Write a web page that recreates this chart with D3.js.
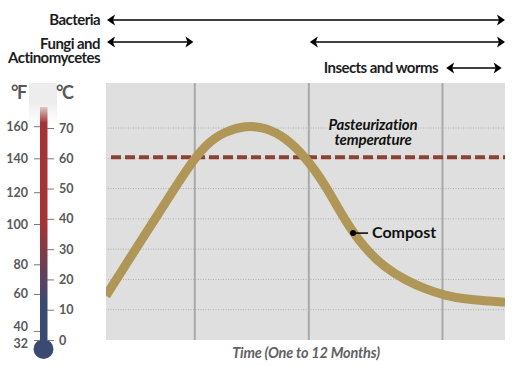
<!DOCTYPE html>
<html lang="en">

<head>
    <meta charset="utf-8">
    <title>Compost temperature over time</title>
    <script src="https://d3js.org/d3.v7.min.js"></script>
    <style>
        html, body { margin: 0; padding: 0; background: #fff; }
        svg { display: block; }
        text { font-family: Lato, sans-serif; }
        .head { font-size: 15px; font-weight: 700; fill: #1d1d1f; letter-spacing: -0.55px; }
        .therm text { font-size: 12.5px; font-weight: 700; fill: #58585a; }
        .unit { font-size: 18px; font-weight: 700; fill: #58585a; letter-spacing: -1.5px; }
    </style>
</head>

<body>
    <script type="text/javascript">

        //Data
        const months = [0, 0.6, 1.2, 1.8, 2.4, 3, 3.6, 4.2, 4.8, 5.4, 6, 6.6, 7.2, 7.8, 8.4, 9, 9.6, 10.2, 10.8, 11.4, 12];
        const compost = [14.6, 25, 35.3, 45.5, 55.9, 64.8, 69, 70.8, 70.2, 66.8, 60.4, 51.2, 39.1, 30, 23.8, 19.8, 16.8, 14.7, 13.5, 12.9, 12.5];

        const celsiusTicks = [0, 10, 20, 30, 40, 50, 60, 70];
        const fahrenheitTicks = [32, 40, 60, 80, 100, 120, 140, 160];
        //where the printed F ticks sit against the C scale
        const fahrenheitAtCelsius = [0, 3, 15.2, 25, 38.3, 48.8, 60, 70.6];

        const gridTemps = [10, 20, 30, 40, 50, 60, 70];
        const stageLines = [2.67, 6.1, 10.12];
        const pasteurization = 60;
        const compostLabel = [7.43, 35.3];

        const bacteriaSpans = [[0, 12]];
        const fungiSpans = [[0, 2.63], [6.1, 12]];
        const insectSpans = [[10.2, 11.9]];

        //declare consts
        const w = 512;
        const h = 366;
        const plot = { left: 106, right: 505, top: 83, bottom: 340 };
        const red = "#a33336";
        const navy = "#3a4a72";

        const x = d3.scaleLinear().domain([0, 12]).range([plot.left, plot.right]);
        const y = d3.scaleLinear().domain([0, 70]).range([340, 128]);
        const yF = d3.scaleLinear().domain(fahrenheitTicks).range(fahrenheitAtCelsius.map(c => y(c)));

        const svg = d3.select("body").append("svg")
            .attr("width", w)
            .attr("height", h);

        const defs = svg.append("defs");

        //thermometer colour, red down to about 38C then into navy
        const thermGrad = defs.append("linearGradient")
            .attr("id", "thermGrad")
            .attr("gradientUnits", "userSpaceOnUse")
            .attr("x1", 0).attr("x2", 0)
            .attr("y1", y(38)).attr("y2", y(12));
        thermGrad.append("stop").attr("offset", 0).attr("stop-color", red);
        thermGrad.append("stop").attr("offset", 1).attr("stop-color", navy);

        const fadeGrad = defs.append("linearGradient")
            .attr("id", "fadeGrad")
            .attr("x1", 0).attr("x2", 0).attr("y1", 0).attr("y2", 1);
        fadeGrad.append("stop").attr("offset", 0).attr("stop-color", "#ededed");
        fadeGrad.append("stop").attr("offset", 0.5).attr("stop-color", "#ededed");
        fadeGrad.append("stop").attr("offset", 1).attr("stop-color", "#ededed").attr("stop-opacity", 0);

        defs.append("clipPath").attr("id", "plotClip")
            .append("rect")
            .attr("x", plot.left).attr("y", plot.top)
            .attr("width", plot.right - plot.left)
            .attr("height", plot.bottom - plot.top);

        //plot
        svg.append("rect")
            .attr("x", plot.left).attr("y", plot.top)
            .attr("width", plot.right - plot.left)
            .attr("height", plot.bottom - plot.top)
            .attr("fill", "#dfdfdf");

        svg.selectAll("line.grid")
            .data(gridTemps)
            .enter()
            .append("line")
            .attr("class", "grid")
            .attr("x1", plot.left + 2).attr("x2", plot.right)
            .attr("y1", d => y(d)).attr("y2", d => y(d))
            .attr("stroke", "#aeaeae")
            .attr("stroke-width", 1)
            .attr("stroke-dasharray", "1 1.5");

        svg.selectAll("line.stage")
            .data(stageLines)
            .enter()
            .append("line")
            .attr("class", "stage")
            .attr("x1", d => x(d)).attr("x2", d => x(d))
            .attr("y1", plot.top).attr("y2", plot.bottom)
            .attr("stroke", "#a9a9a9")
            .attr("stroke-width", 2);

        svg.append("line")
            .attr("x1", plot.left + 5).attr("x2", plot.right)
            .attr("y1", y(pasteurization) - 1).attr("y2", y(pasteurization) - 1)
            .attr("stroke", "#8b4233")
            .attr("stroke-width", 4)
            .attr("stroke-dasharray", "10 4");

        const line = d3.line()
            .x(d => x(d[0]))
            .y(d => y(d[1]))
            .curve(d3.curveBasis);

        svg.append("path")
            .datum(d3.zip(months, compost))
            .attr("d", line)
            .attr("fill", "none")
            .attr("stroke", "#b09757")
            .attr("stroke-width", 9)
            .attr("clip-path", "url(#plotClip)");

        //compost callout
        svg.append("circle")
            .attr("cx", x(compostLabel[0])).attr("cy", y(compostLabel[1]))
            .attr("r", 3)
            .attr("fill", "#000");
        svg.append("line")
            .attr("x1", x(compostLabel[0])).attr("x2", x(compostLabel[0]) + 15)
            .attr("y1", y(compostLabel[1])).attr("y2", y(compostLabel[1]))
            .attr("stroke", "#000")
            .attr("stroke-width", 1.5);
        svg.append("text")
            .attr("x", 372).attr("y", 238)
            .attr("font-size", 16)
            .attr("font-weight", 700)
            .attr("fill", "#111")
            .text("Compost");

        //pasteurization label
        svg.selectAll("text.past")
            .data(["Pasteurization", "temperature"])
            .enter()
            .append("text")
            .attr("class", "past")
            .attr("x", 373)
            .attr("y", (d, i) => 130 + i * 15)
            .attr("text-anchor", "middle")
            .attr("font-size", 15)
            .attr("font-weight", 700)
            .attr("font-style", "italic")
            .attr("letter-spacing", -0.15)
            .attr("fill", "#111")
            .attr("stroke", "#dfdfdf")
            .attr("stroke-width", 3)
            .attr("paint-order", "stroke")
            .text(d => d);

        svg.append("text")
            .attr("x", 306).attr("y", 358)
            .attr("text-anchor", "middle")
            .attr("font-size", 14.5)
            .attr("font-weight", 700)
            .attr("font-style", "italic")
            .attr("letter-spacing", -0.2)
            .attr("fill", "#626264")
            .text("Time (One to 12 Months)");

        //organism ranges
        function arrows(spans, rowY) {
            const g = svg.append("g");
            spans.forEach(s => {
                const x0 = x(s[0]) + 1;
                const x1 = x(s[1]);
                g.append("line")
                    .attr("x1", x0 + 4).attr("x2", x1 - 4)
                    .attr("y1", rowY).attr("y2", rowY)
                    .attr("stroke", "#000")
                    .attr("stroke-width", 1.6);
                g.append("path")
                    .attr("d", d3.line()([[x0, rowY], [x0 + 8, rowY - 5.5], [x0 + 6, rowY], [x0 + 8, rowY + 5.5]]) + "Z")
                    .attr("fill", "#000");
                g.append("path")
                    .attr("d", d3.line()([[x1, rowY], [x1 - 8, rowY - 5.5], [x1 - 6, rowY], [x1 - 8, rowY + 5.5]]) + "Z")
                    .attr("fill", "#000");
            });
        }
        arrows(bacteriaSpans, 20);
        arrows(fungiSpans, 42);
        arrows(insectSpans, 68);

        const heads = [
            ["Bacteria", 100, 25],
            ["Fungi and", 100, 49],
            ["Actinomycetes", 100, 62.5],
            ["Insects and worms", 438, 73]
        ];
        svg.selectAll("text.head")
            .data(heads)
            .enter()
            .append("text")
            .attr("class", "head")
            .attr("x", d => d[1])
            .attr("y", d => d[2])
            .attr("text-anchor", "end")
            .text(d => d[0]);

        //thermometer
        const therm = svg.append("g").attr("class", "therm");

        therm.append("rect")
            .attr("x", 40).attr("width", 7.5)
            .attr("y", 107).attr("height", plot.bottom - 107)
            .attr("fill", "url(#thermGrad)");
        therm.append("circle")
            .attr("cx", 43.5).attr("cy", 349)
            .attr("r", 10)
            .attr("fill", navy);
        therm.append("rect")
            .attr("x", 29).attr("width", 28)
            .attr("y", 83).attr("height", 40)
            .attr("fill", "url(#fadeGrad)");

        const axisF = d3.axisLeft(yF)
            .tickValues(fahrenheitTicks)
            .tickFormat(d3.format("d"))
            .tickSize(6)
            .tickPadding(6);
        const axisC = d3.axisRight(y)
            .tickValues(celsiusTicks)
            .tickFormat(d3.format("d"))
            .tickSize(7)
            .tickPadding(5);

        const gF = therm.append("g").attr("transform", "translate(40,0)").call(axisF);
        const gC = therm.append("g").attr("transform", "translate(47,0)").call(axisC);
        [gF, gC].forEach(g => {
            g.select(".domain").remove();
            g.selectAll(".tick line").attr("stroke", "#77777a");
        });
        //the 40 and 32 labels are pushed apart in the original
        gF.selectAll(".tick text")
            .filter(d => d === 40).attr("dy", "-0.05em");
        gF.selectAll(".tick text")
            .filter(d => d === 32).attr("dy", "0.6em");

        svg.append("text").attr("class", "unit").attr("x", 11).attr("y", 99).text("°F");
        svg.append("text").attr("class", "unit").attr("x", 56).attr("y", 99).text("°C");

    </script>
</body>

</html>
